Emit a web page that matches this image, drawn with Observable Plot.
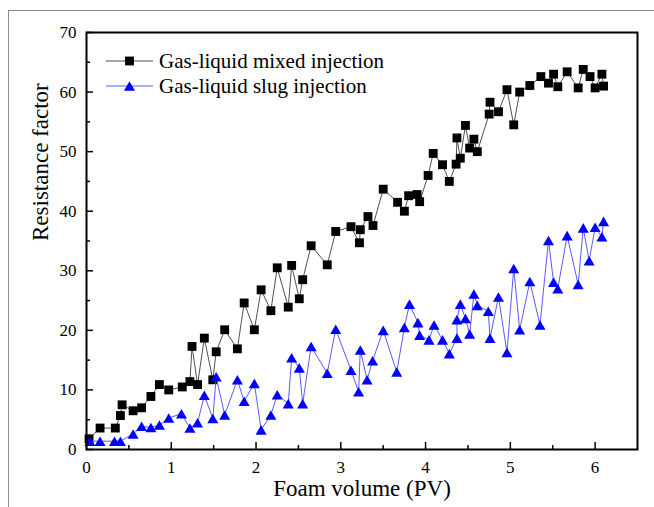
<!DOCTYPE html>
<html>
<head>
<meta charset="utf-8">
<script src="https://cdn.jsdelivr.net/npm/d3@7"></script>
<script src="https://cdn.jsdelivr.net/npm/@observablehq/plot@0.6"></script>
<style>
  html, body { margin: 0; padding: 0; background: #fff; }
  #wrap { position: relative; width: 654px; height: 507px; overflow: hidden; }
  #border { position: absolute; left: 8px; top: 10px; width: 646px; height: 497px;
            border-top: 1px solid #8c8c8c; border-left: 1px solid #8c8c8c; pointer-events: none; }
  #legend { position: absolute; left: 0; top: 0; pointer-events: none; }
  svg text { font-family: 'Liberation Serif', 'Times New Roman', serif; }
</style>
</head>
<body>
<div id="wrap"><div id="border"></div></div>
<script>
// Gas-liquid mixed injection
const mixedPV = [0.03,0.16,0.34,0.40,0.42,0.55,0.65,0.76,0.86,0.97,1.13,1.22,1.245,1.31,1.39,1.49,1.53,1.63,1.78,1.86,1.98,2.06,2.175,2.25,2.38,2.42,2.51,2.55,2.65,2.84,2.94,3.12,3.22,3.23,3.32,3.38,3.50,3.67,3.75,3.80,3.90,3.93,4.03,4.09,4.20,4.28,4.36,4.37,4.41,4.47,4.52,4.57,4.61,4.75,4.76,4.86,4.96,5.04,5.11,5.23,5.36,5.45,5.51,5.56,5.67,5.80,5.86,5.94,6.00,6.08,6.10];
const mixedRF = [1.8,3.6,3.6,5.7,7.5,6.5,7.0,8.9,10.9,10.0,10.5,11.4,17.3,10.9,18.7,11.7,16.4,20.1,16.9,24.6,20.1,26.8,23.3,30.5,23.9,30.9,25.3,28.5,34.2,31.0,36.6,37.4,34.7,36.9,39.1,37.6,43.7,41.5,40.0,42.6,42.8,41.6,46.0,49.7,47.8,45.0,47.9,52.3,48.9,54.4,50.6,52.1,50.0,56.3,58.3,56.7,60.4,54.5,60.0,61.1,62.6,61.5,63.0,60.9,63.4,60.7,63.8,62.6,60.7,63.0,61.0];
// Gas-liquid slug injection
const slugPV = [0.04,0.16,0.33,0.40,0.55,0.65,0.76,0.86,0.97,1.12,1.22,1.31,1.39,1.49,1.53,1.63,1.78,1.86,1.98,2.06,2.175,2.25,2.38,2.42,2.51,2.55,2.65,2.84,2.94,3.12,3.21,3.23,3.31,3.375,3.50,3.66,3.75,3.81,3.91,3.93,4.04,4.10,4.20,4.28,4.37,4.37,4.41,4.47,4.52,4.57,4.61,4.74,4.76,4.86,4.96,5.04,5.11,5.23,5.35,5.45,5.51,5.56,5.67,5.80,5.86,5.93,6.00,6.08,6.10];
const slugRF = [1.4,1.4,1.4,1.4,2.6,3.9,3.7,4.1,5.3,6.0,3.6,4.5,9.1,5.2,12.2,5.8,11.7,8.1,11.1,3.3,5.8,9.2,7.7,15.4,13.7,7.7,17.3,12.8,20.2,13.3,9.7,16.7,11.7,14.9,20.0,13.0,20.5,24.4,21.3,19.2,18.4,20.9,18.4,16.1,18.7,21.8,24.4,22.0,19.4,26.1,24.2,23.2,18.7,25.6,16.3,30.4,20.1,28.2,20.9,35.1,28.1,27.0,35.9,27.7,37.2,31.7,37.3,35.7,38.3];

const seriesNames = ["Gas-liquid mixed injection", "Gas-liquid slug injection"];
const xTicks = [0, 1, 2, 3, 4, 5, 6];
const xMinor = [0.5, 1.5, 2.5, 3.5, 4.5, 5.5];
const yTicks = [0, 10, 20, 30, 40, 50, 60, 70];
const yMinor = [5, 15, 25, 35, 45, 55, 65];
const xLabel = "Foam volume (PV)";
const yLabel = "Resistance factor";

const mixed = mixedPV.map((x, i) => ({x, y: mixedRF[i]}));
const slug = slugPV.map((x, i) => ({x, y: slugRF[i]}));

const W = 654, H = 507, ML = 86, MR = 17, MT = 32, MB = 58;
const pxX = 6.5 / (W - ML - MR), pxY = 70 / (H - MT - MB);
const majLen = 7, minLen = 4;
const font = "'Liberation Serif', 'Times New Roman', serif";

const chart = Plot.plot({
  width: W, height: H,
  marginLeft: ML, marginRight: MR, marginTop: MT, marginBottom: MB,
  style: {fontFamily: font, background: "transparent", color: "black", overflow: "visible"},
  x: {domain: [0, 6.5]},
  y: {domain: [0, 70]},
  marks: [
    Plot.line(mixed, {x: "x", y: "y", stroke: "#505050", strokeWidth: 1}),
    Plot.dot(mixed, {x: "x", y: "y", symbol: "square", r: 5, fill: "black", stroke: "none"}),
    Plot.line(slug, {x: "x", y: "y", stroke: "#5a5aff", strokeWidth: 1}),
    Plot.dot(slug, {x: "x", y: "y", symbol: "triangle", r: 4.1, dy: 1.6, fill: "#0000ff", stroke: "none"}),
    Plot.ruleX(xTicks, {x: d => d, y1: 0, y2: majLen * pxY, stroke: "black", strokeWidth: 1.5}),
    Plot.ruleX(xMinor, {x: d => d, y1: 0, y2: minLen * pxY, stroke: "black", strokeWidth: 1.5}),
    Plot.ruleY(yTicks, {y: d => d, x1: 0, x2: majLen * pxX, stroke: "black", strokeWidth: 1.5}),
    Plot.ruleY(yMinor, {y: d => d, x1: 0, x2: minLen * pxX, stroke: "black", strokeWidth: 1.5}),
    Plot.frame({stroke: "black", strokeWidth: 2}),
    Plot.axisX({ticks: xTicks, tickSize: 0, tickPadding: 11, fontSize: 17, fontFamily: font, label: null, tickFormat: d => String(d)}),
    Plot.axisY({ticks: yTicks, tickSize: 0, tickPadding: 10, fontSize: 17, fontFamily: font, label: null, tickFormat: d => String(d)}),
    Plot.text([xLabel], {frameAnchor: "bottom", dy: 46, fontSize: 23, fontFamily: font, fill: "black"}),
    Plot.text([yLabel], {frameAnchor: "left", rotate: -90, dx: -46, fontSize: 23, fontFamily: font, fill: "black"})
  ]
});
document.getElementById("wrap").appendChild(chart);

// Legend (inside the plot, top-left)
const ns = "http://www.w3.org/2000/svg";
const leg = document.createElementNS(ns, "svg");
leg.setAttribute("id", "legend");
leg.setAttribute("width", W);
leg.setAttribute("height", H);
const rows = [
  {name: seriesNames[0], line: "#505050", fill: "black", sym: "square", cy: 61},
  {name: seriesNames[1], line: "#5a5aff", fill: "#0000ff", sym: "triangle", cy: 86}
];
for (const r of rows) {
  const ln = document.createElementNS(ns, "line");
  ln.setAttribute("x1", 106); ln.setAttribute("x2", 153);
  ln.setAttribute("y1", r.cy); ln.setAttribute("y2", r.cy);
  ln.setAttribute("stroke", r.line); ln.setAttribute("stroke-width", 1.2);
  leg.appendChild(ln);
  const p = document.createElementNS(ns, "path");
  const sym = r.sym === "square" ? d3.symbolSquare : d3.symbolTriangle;
  const size = r.sym === "square" ? Math.PI * 25 : Math.PI * 4.1 * 4.1;
  p.setAttribute("d", d3.symbol(sym, size)());
  p.setAttribute("transform", `translate(129.5,${r.cy + (r.sym === "triangle" ? 1.6 : 0)})`);
  p.setAttribute("fill", r.fill);
  leg.appendChild(p);
  const t = document.createElementNS(ns, "text");
  t.setAttribute("x", 159); t.setAttribute("y", r.cy + 7);
  t.setAttribute("font-family", font); t.setAttribute("font-size", 21);
  t.textContent = r.name;
  leg.appendChild(t);
}
document.getElementById("wrap").appendChild(leg);
</script>
</body>
</html>
